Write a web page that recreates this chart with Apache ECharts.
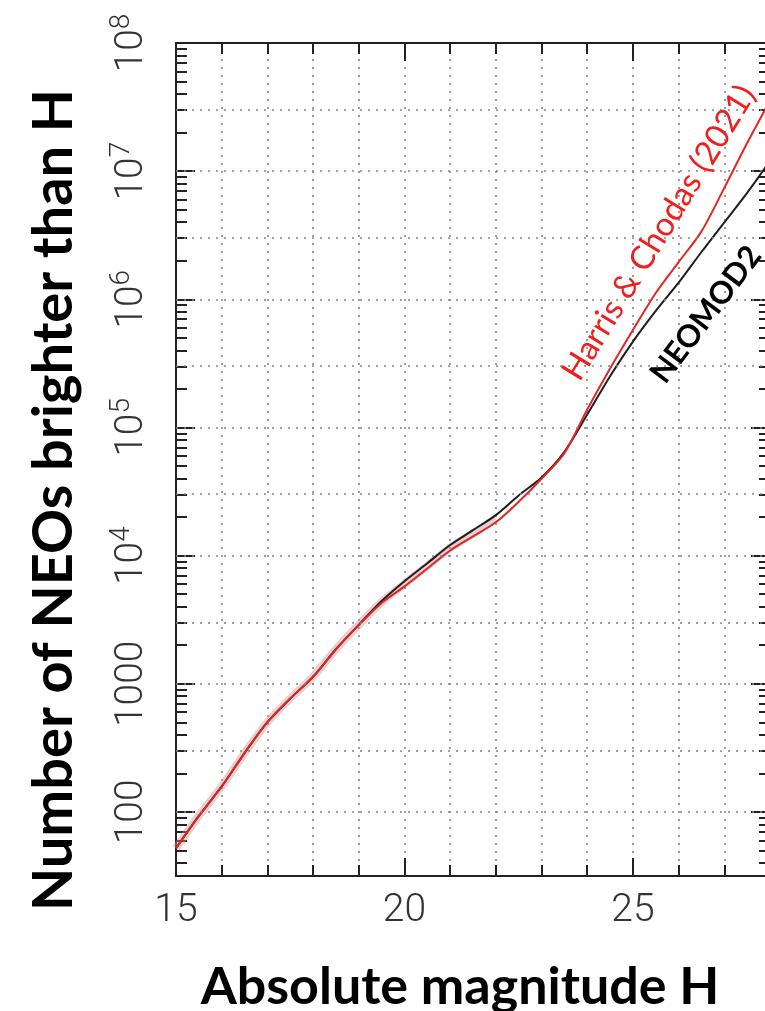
<!DOCTYPE html>
<html>
<head>
<meta charset="utf-8">
<script src="https://cdn.jsdelivr.net/npm/echarts@6/dist/echarts.min.js"></script>
<style>
  html, body { margin: 0; padding: 0; background: #ffffff; }
  #chart { width: 765px; height: 1011px; }
</style>
</head>
<body>
<div id="chart"></div>
<script>
// Absolute magnitude H (x values shared by both curves)
const magnitudes = [15, 15.5, 16, 16.5, 17, 17.5, 18, 18.5, 19, 19.5, 20, 20.5, 21, 21.5,
                    22, 22.5, 23, 23.5, 24, 24.5, 25, 25.5, 26, 26.5, 27, 27.5, 28];

// Cumulative number of NEOs brighter than H
const neomod2 = [52, 93, 158, 288, 501, 767, 1135, 1860, 2880, 4420, 6310, 8710, 12100, 15800,
                 20700, 29500, 40700, 64600, 126000, 251000, 468000, 813000, 1350000, 2340000,
                 3980000, 6760000, 12000000];
const harrisChodas = [52, 93, 158, 288, 501, 767, 1135, 1860, 2880, 4270, 5750, 7940, 10960, 14130,
                      18200, 26300, 39800, 63100, 138000, 288000, 575000, 1120000, 1950000, 3390000,
                      7410000, 16600000, 35500000];

// Uncertainty halo drawn along the faint end of the curves
const bandMagnitudes = [15, 15.5, 16, 16.5, 17, 17.5, 18, 18.5, 19, 19.5, 20, 20.5, 21, 21.5, 22];
const bandCounts = [52, 93, 158, 288, 501, 767, 1135, 1860, 2880, 4340, 6030, 8300, 11500, 14900, 19400];

// Axis range and ticks
const hRange = [15, 28];
const countRange = [31.62, 1e8];
const xLabelValues = [15, 20, 25];
const yLabelExponents = [2, 3, 4, 5, 6, 7, 8];
const gridCounts = [100, 300, 1000, 3000, 1e4, 3e4, 1e5, 3e5, 1e6, 3e6, 1e7, 3e7];

// Curve labels: [H, count] anchor
const harrisLabelAt = [25.57, 3.3e6];
const neomodLabelAt = [26.6, 7.6e5];

const lg = Math.log10;
const yMin = lg(countRange[0]);
const yMax = lg(countRange[1]);

// minor ticks at 2..9 x 10^n within the visible range
const minorTicks = [];
for (let n = 1; n <= 7; n++) {
  for (let k = 2; k <= 9; k++) {
    const v = lg(k * Math.pow(10, n));
    if (v > yMin && v < yMax) minorTicks.push(v);
  }
}

const frame = '#222';
const tickFont = { fontFamily: 'Roboto', fontWeight: 300, fontSize: 39, color: '#333' };
const gridLine = { color: '#858585', width: 1.6, type: [2, 6] };

function xAxisDef(position, interval, tickLen, withLine, withLabels, withSplit) {
  return {
    type: 'value', position, min: hRange[0], max: hRange[1], interval,
    axisLine: { show: withLine, onZero: false, lineStyle: { color: frame, width: 2 } },
    axisTick: { show: true, inside: true, length: tickLen, lineStyle: { color: frame, width: 2 } },
    axisLabel: {
      show: withLabels, margin: 16, ...tickFont,
      formatter: v => (xLabelValues.indexOf(v) >= 0 ? String(v) : '')
    },
    splitLine: { show: withSplit, lineStyle: gridLine }
  };
}

function yAxisDef(position, ticks, tickLen, withLine, withLabels) {
  return {
    type: 'value', position, min: yMin, max: yMax,
    axisLine: { show: withLine, onZero: false, lineStyle: { color: frame, width: 2 } },
    axisTick: { show: true, inside: true, length: tickLen, customValues: ticks,
                lineStyle: { color: frame, width: 2 } },
    axisLabel: {
      show: withLabels, customValues: yLabelExponents, rotate: 90, margin: 24,
      formatter: v => {
        const e = Math.round(v);
        if (e === 2) return '{b|100}';
        if (e === 3) return '{b|1000}';
        return '{b|10}{s|' + e + '}';
      },
      rich: {
        b: { ...tickFont, lineHeight: 44, verticalAlign: 'bottom' },
        s: { ...tickFont, fontSize: 28, lineHeight: 28, verticalAlign: 'top' }
      }
    },
    splitLine: { show: false }
  };
}

const chart = echarts.init(document.getElementById('chart'), null, { renderer: 'canvas' });

const option = {
  animation: false,
  backgroundColor: '#ffffff',
  grid: {
    left: 176, top: 43, width: 594, height: 833,
    containLabel: false, outerBoundsMode: 'none'
  },
  graphic: [
    {
      type: 'text', x: 54, y: 500, rotation: Math.PI / 2,
      style: {
        text: 'Number of NEOs brighter than H', fill: '#000',
        font: 'bold 56px Lato', textAlign: 'center', textVerticalAlign: 'middle'
      }
    },
    {
      type: 'text', x: 460, y: 987,
      style: {
        text: 'Absolute magnitude H', fill: '#000',
        font: 'bold 52px Lato', textAlign: 'center', textVerticalAlign: 'middle'
      }
    }
  ],
  xAxis: [
    xAxisDef('bottom', 1, 11, true, true, true),
    xAxisDef('bottom', 5, 18, false, false, false),
    xAxisDef('top', 1, 11, true, false, false),
    xAxisDef('top', 5, 18, false, false, false)
  ],
  yAxis: [
    yAxisDef('left', yLabelExponents, 19, true, true),
    yAxisDef('left', minorTicks, 11, false, false),
    yAxisDef('right', yLabelExponents, 19, true, false),
    yAxisDef('right', minorTicks, 11, false, false)
  ],
  series: [
    {
      name: 'NEOMOD2 range', type: 'line', silent: true, symbol: 'none', smooth: 0.3,
      data: bandMagnitudes.map((h, i) => [h, lg(bandCounts[i])]),
      lineStyle: { color: 'rgba(205,150,150,0.45)', width: 8 }, z: 1
    },
    {
      name: 'NEOMOD2', type: 'line', symbol: 'none', smooth: 0.3,
      data: magnitudes.map((h, i) => [h, lg(neomod2[i])]),
      lineStyle: { color: '#1e1e1e', width: 2 }, z: 3,
      markLine: {
        silent: true, symbol: 'none', label: { show: false },
        lineStyle: gridLine,
        data: gridCounts.map(c => ({ yAxis: lg(c) }))
      },
      markPoint: {
        symbol: 'circle', symbolSize: 0,
        data: [{ coord: [neomodLabelAt[0], lg(neomodLabelAt[1])] }],
        label: {
          show: true, position: 'inside', formatter: 'NEOMOD2', rotate: 53,
          fontFamily: 'Lato', fontWeight: 'bold', fontSize: 31, color: '#000'
        }
      }
    },
    {
      name: 'Harris & Chodas (2021)', type: 'line', symbol: 'none', smooth: 0.3,
      data: magnitudes.map((h, i) => [h, lg(harrisChodas[i])]),
      lineStyle: { color: '#e02626', width: 2 }, z: 4,
      markPoint: {
        symbol: 'circle', symbolSize: 0,
        data: [{ coord: [harrisLabelAt[0], lg(harrisLabelAt[1])] }],
        label: {
          show: true, position: 'inside', formatter: 'Harris & Chodas (2021)', rotate: 58.5,
          fontFamily: 'Lato', fontSize: 33, color: '#f01e1e'
        }
      }
    }
  ]
};

chart.setOption(option);
</script>
</body>
</html>
